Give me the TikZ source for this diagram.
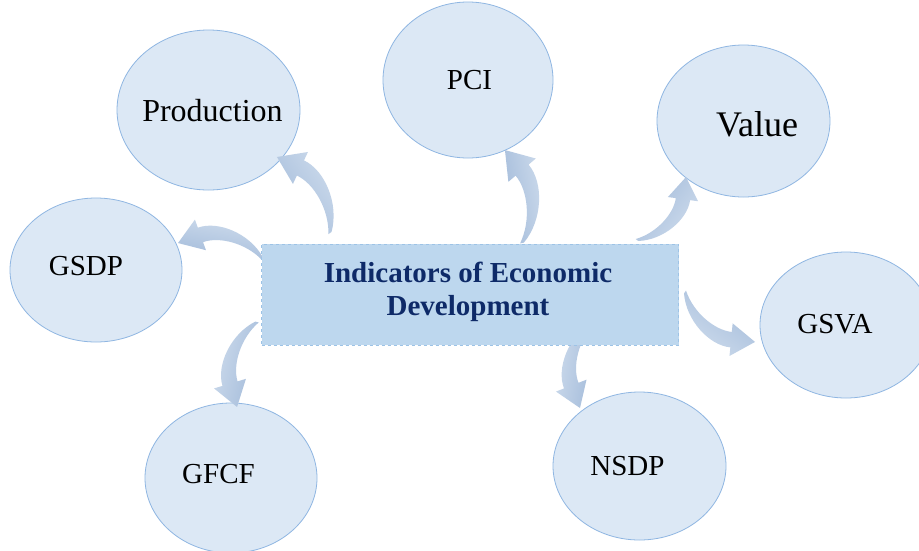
\documentclass[tikz,border=0pt]{standalone}
\usepackage{fontspec}
\setmainfont{Liberation Serif}
\begin{document}
\begin{tikzpicture}[x=1pt,y=-1pt,
  bubble/.style={draw=bubbleline, line width=0.8pt, fill=bubblefill},
  lbl/.style={font=\fontsize{29}{30}\selectfont, anchor=base, inner sep=0pt, text=black},
  titletxt/.style={font=\fontsize{29}{30}\selectfont\bfseries, anchor=base, inner sep=0pt, text=titleblue},
  arrowshade/.style={left color=arrowtail, middle color=arrowmid, right color=arrowhead}]
\definecolor{bubblefill}{HTML}{DCE8F5}
\definecolor{bubbleline}{HTML}{8FB6E2}
\definecolor{boxfill}{HTML}{BDD7EE}
\definecolor{boxline}{HTML}{9DC3E6}
\definecolor{titleblue}{HTML}{0E2A68}
\definecolor{arrowtail}{HTML}{A3BBDA}
\definecolor{arrowmid}{HTML}{88A8D0}
\definecolor{arrowhead}{HTML}{CDDBEC}
\useasboundingbox (0,0) rectangle (919,550);
\fill[white] (0,0) rectangle (919,550);
% ellipses
\path[bubble] (208.5,110) ellipse [x radius=91.5, y radius=80];
\path[bubble] (468,80) ellipse [x radius=85, y radius=78];
\path[bubble] (743.5,121) ellipse [x radius=86.5, y radius=76];
\path[bubble] (96,270) ellipse [x radius=86, y radius=72];
\path[bubble] (846,325) ellipse [x radius=86, y radius=73];
\path[bubble] (231,478) ellipse [x radius=86, y radius=75];
\path[bubble] (639.5,466) ellipse [x radius=86.5, y radius=74];
% labels
\node[lbl, font=\fontsize{32}{33}\selectfont] (prod) at (212.5,121) {Production};
\node[lbl] (pci) at (469.5,89) {PCI};
\node[lbl, font=\fontsize{36}{37}\selectfont] (value) at (757,136) {Value};
\node[lbl] (gsdp) at (86,275) {GSDP};
\node[lbl] (gsva) at (835,333) {GSVA};
\node[lbl] (gfcf) at (218.5,483) {GFCF};
\node[lbl] (nsdp) at (627.5,475) {NSDP};
% arrow end points
\coordinate (t1) at (330,233); \coordinate (t2) at (262,258);
\coordinate (t3) at (522,243); \coordinate (t4) at (637,240);
\coordinate (t5) at (257,322); \coordinate (t6) at (593,323);
\coordinate (t7) at (685,292);
\newcommand\bentshape{%
  (0,-2) .. controls (20,-26) and (58.7,-34.3) .. (80.3,-21.8)
  -- (85.3,-30.5) -- (100,0) -- (66.3,2.5) -- (71.3,-6.2)
  .. controls (54,-16.2) and (22,-14) .. (0,2) -- cycle}
\foreach \t/\ang/\len in {t1/124.9/92.7, t2/169.9/85.3, t3/100.4/94.5, t4/52.1/79.8,
                          t5/256.8/87.3, t6/261.3/86.0, t7/324.5/86.0}{
  \begin{scope}[shift={(\t)}, rotate=\ang, scale=\len/100, x=1pt, y=1pt]
    \shade[arrowshade, shading angle=\ang] \bentshape;
  \end{scope}
}
% central box
\node[draw=boxline, dashed, line width=0.8pt, fill=boxfill, minimum width=417pt, minimum height=101pt, inner sep=0pt] (box) at (470,294.5) {};
\node[titletxt] (title1) at (468,282) {Indicators of Economic};
\node[titletxt] (title2) at (468,315) {Development};
\end{tikzpicture}
\end{document}
